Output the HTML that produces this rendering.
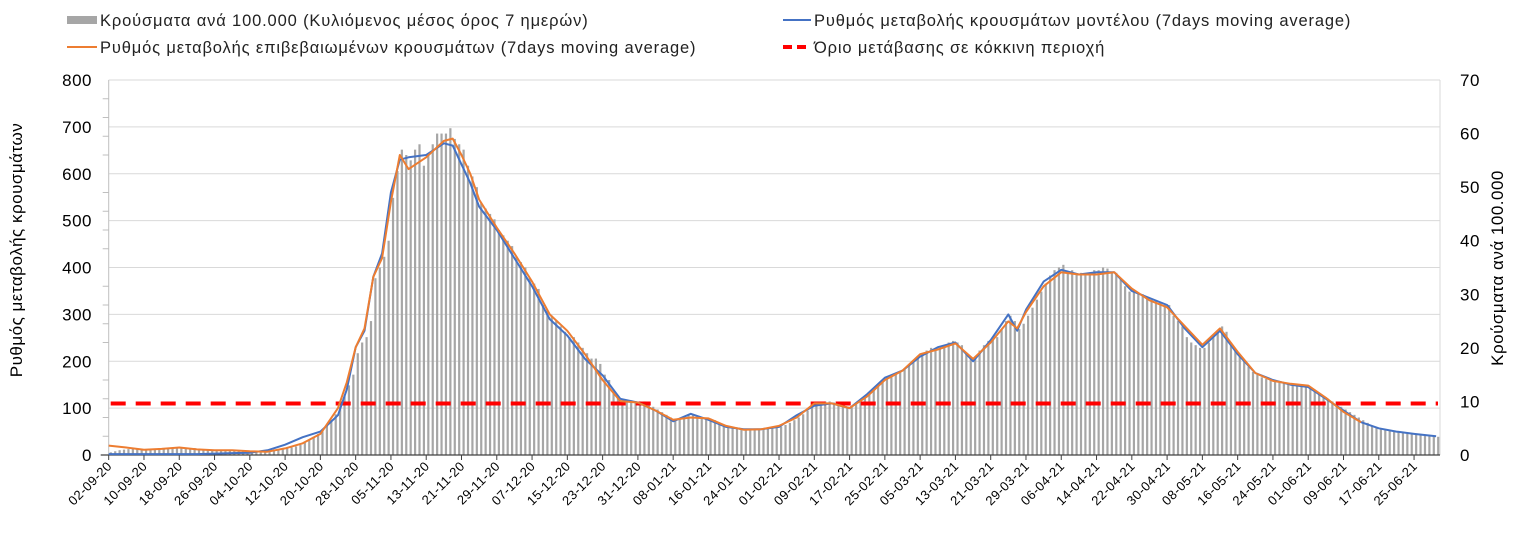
<!DOCTYPE html>
<html><head><meta charset="utf-8">
<style>
html,body{margin:0;padding:0;background:#fff;}
svg{display:block;font-family:"Liberation Sans","DejaVu Sans",sans-serif;}
</style></head>
<body>
<svg id="chart" width="1524" height="544" viewBox="0 0 1524 544" xmlns="http://www.w3.org/2000/svg">
  <g font-size="16.5" letter-spacing="0.85" fill="#222">
    <g>
      <rect x="67" y="16" width="30" height="8" fill="#a6a6a6"/>
      <text x="100" y="26">Κρούσματα ανά 100.000 (Κυλιόμενος μέσος όρος 7 ημερών)</text>
    </g>
    <g>
      <line x1="783" y1="20" x2="811" y2="20" stroke="#4472c4" stroke-width="2"/>
      <text x="814" y="26">Ρυθμός μεταβολής κρουσμάτων μοντέλου (7days moving average)</text>
    </g>
    <g>
      <line x1="67" y1="47" x2="97" y2="47" stroke="#ed7d31" stroke-width="2"/>
      <text x="100" y="53">Ρυθμός μεταβολής επιβεβαιωμένων κρουσμάτων (7days moving average)</text>
    </g>
    <g>
      <line x1="783" y1="47" x2="811" y2="47" stroke="#ff0000" stroke-width="4" stroke-dasharray="9,5"/>
      <text x="814" y="53">Όριο μετάβασης σε κόκκινη περιοχή</text>
    </g>
  </g>
  <text transform="translate(22,250) rotate(-90)" text-anchor="middle" font-size="17" letter-spacing="0.5" fill="#000">Ρυθμός μεταβολής κρουσμάτων</text>
  <text transform="translate(1503,268) rotate(-90)" text-anchor="middle" font-size="17" letter-spacing="0.5" fill="#000">Κρούσματα ανά 100.000</text>
  <g id="grid"></g>
  <g id="bars"></g>
  <g id="axes"></g>
  <g id="lines"></g>
</svg>
<script>
const startDate = [2020, 8, 2];
const leftTicks = [0,100,200,300,400,500,600,700,800];
const rightTicks = [0,10,20,30,40,50,60,70];
const threshold = 110;
const lineDays = [0,4,8,12,16,20,24,28,32,36,40,44,48,52,54,56,58,60,62,64,66,68,72,76,78,80,82,84,88,92,96,100,104,108,112,116,120,124,128,132,136,140,144,148,152,156,160,164,168,172,176,180,184,188,192,196,200,204,206,208,212,216,220,224,228,232,236,240,244,248,252,256,260,264,268,272,276,280,284,288,292,296,301];
const modelRate = [2,2,2,2,2,2,3,4,5,10,22,38,50,85,140,230,265,380,430,560,630,635,640,665,660,620,580,530,480,420,360,290,255,205,170,120,112,95,72,88,75,60,55,55,60,85,105,110,100,130,165,180,210,230,240,200,245,300,265,310,370,395,385,390,390,350,335,320,270,230,265,215,175,160,150,145,120,95,70,57,50,45,40];
const confirmedRate = [20,16,11,13,16,12,10,10,8,7,14,25,45,100,155,230,270,380,420,540,640,610,635,670,675,640,600,545,485,430,370,300,265,215,160,115,112,95,75,80,78,62,54,55,62,80,110,110,100,125,160,180,215,225,238,205,240,285,270,305,360,390,385,385,390,355,330,315,275,235,270,220,175,158,152,148,122,92,70];
const cases = [0.5,0.7,0.9,1.0,1.1,1.2,1.1,1.0,1.0,1.0,1.1,1.1,1.1,1.2,1.2,1.3,1.3,1.4,1.3,1.3,1.2,1.1,1.0,1.0,0.9,0.9,0.9,0.8,0.8,0.8,0.7,0.7,0.7,0.7,0.6,0.7,0.7,0.8,0.9,1.1,1.3,1.4,1.6,1.9,2.3,2.8,3.4,3.9,4.4,5.5,6.6,7.6,9.0,11,13,15,19,21,22,25,33,35,37,40,48,53,57,56,55,57,58,54,56,58,60,60,60,61,59,58,57,54,52,50,47,46,45,44,42,41,40,39,37,36,35,33,32,31,28,27,26,25,24,23,22,22,21,20,19,18,18,17,15,14,12,11,10.5,10.3,10.2,10,10,10,9.5,9,8.5,8,7.5,7,6.5,6.8,7.2,7.5,7.5,7.2,7,6.8,6.8,6.5,6,5.7,5.4,5.2,5,4.9,4.8,4.8,4.9,4.8,4.9,5,5,5.1,5.3,5.6,6,6.5,7,7.6,8.3,9,9.5,9.8,10,10,9.8,9.5,9,8.8,9,9.5,10.2,10.8,11.5,12.3,13,13.8,14.3,14.8,15.3,15.6,16,16.8,17.5,18.5,19,19.5,20,19.8,20,20.5,21,21.3,21,20.5,19,18,18,19.5,20.5,21.3,21.5,22,23.5,25,26,25,23.5,24.5,26,27.5,29,30.5,32,33.5,34.5,35,35.5,34,34.5,33.8,34,33.5,33.8,34.5,34.5,35,34.8,34.2,34,33,31.5,30.5,30.5,30.3,30,29.5,29,28.8,28.5,28,28,26,25,24,22,21,20.5,20,20,21,22,23,24,23,21,19.5,18.5,17.5,16.5,15.5,15,14.5,14.2,14,13.8,13.5,13.4,13.3,13.2,13.2,13.1,13,12.5,12,11.5,11,10.5,10,9.5,9,8.5,8,7.5,7,6.5,6,5.5,5.2,5,4.8,4.6,4.4,4.3,4.1,4,3.9,3.8,3.7,3.6,3.5,3.4,3.4];

const NS = "http://www.w3.org/2000/svg";
const X0 = 108.7, DX = 4.41, Y0 = 455, YTOP = 80;
const xs = d => X0 + d * DX;
const yL = v => Y0 - (v / 800) * (Y0 - YTOP);
const yR = v => Y0 - (v / 70) * (Y0 - YTOP);
function mk(tag, attrs, parent) {
  const e = document.createElementNS(NS, tag);
  for (const k in attrs) e.setAttribute(k, attrs[k]);
  parent.appendChild(e);
  return e;
}
const grid = document.getElementById('grid');
const axes = document.getElementById('axes');
const barsG = document.getElementById('bars');
const linesG = document.getElementById('lines');
const XEND = 1440;

leftTicks.forEach(v => {
  if (v > 0) {
    const g = mk('line', {x1: X0, x2: XEND, y1: yL(v), y2: yL(v), stroke: '#d9d9d9', 'stroke-width': 1}, grid);
    
    
  }
  const t = mk('text', {x: 92, y: yL(v) + 6, 'text-anchor': 'end', 'font-size': 17, 'letter-spacing': 0.5, fill: '#000'}, axes);
  t.textContent = v;
  
  
});
for (let v = 40; v < 800; v += 40) {
  if (v % 100 === 0) continue;
  const m = mk('line', {x1: X0 - 6, x2: X0, y1: yL(v), y2: yL(v), stroke: '#bfbfbf', 'stroke-width': 1}, axes);
  
  
}
rightTicks.forEach(v => {
  const t = mk('text', {x: 1460, y: yR(v) + 6, 'text-anchor': 'start', 'font-size': 17, 'letter-spacing': 0.5, fill: '#000'}, axes);
  t.textContent = v;
  
  
});

cases.forEach((v, i) => {
  const b = mk('rect', {x: xs(i) + 1.0, y: yR(v), width: 2.2, height: Y0 - yR(v), fill: '#a6a6a6'}, barsG);
  
  
});

let la = mk('line', {x1: X0, x2: X0, y1: YTOP, y2: Y0, stroke: '#bfbfbf', 'stroke-width': 1}, axes);


let ra = mk('line', {x1: XEND, x2: XEND, y1: YTOP, y2: Y0, stroke: '#d9d9d9', 'stroke-width': 1}, axes);


let xa = mk('line', {x1: X0 - 8, x2: XEND, y1: Y0, y2: Y0, stroke: '#404040', 'stroke-width': 1.2}, axes);



const base = new Date(Date.UTC(startDate[0], startDate[1], startDate[2]));
for (let d = 0; d < cases.length; d += 8) {
  const dt = new Date(base.getTime() + d * 86400000);
  const lab = String(dt.getUTCDate()).padStart(2, '0') + '-' + String(dt.getUTCMonth() + 1).padStart(2, '0') + '-' + String(dt.getUTCFullYear()).slice(2);
  const x = xs(d);
  const tk = mk('line', {x1: x, x2: x, y1: Y0, y2: Y0 + 5, stroke: '#404040', 'stroke-width': 1}, axes);
  
  
  const t = mk('text', {x: x + 4, y: Y0 + 12, 'text-anchor': 'end', 'font-size': 13, 'letter-spacing': 0.4, fill: '#000', transform: 'rotate(-45 ' + (x + 4) + ' ' + (Y0 + 12) + ')'}, axes);
  t.textContent = lab;
  
  
}

const th = mk('line', {x1: X0 + 2, x2: XEND - 2, y1: yL(threshold), y2: yL(threshold), stroke: '#ff0000', 'stroke-width': 4, 'stroke-dasharray': '15,10'}, linesG);



function pathOf(arr) {
  return arr.map((v, i) => (i ? 'L' : 'M') + xs(lineDays[i]).toFixed(1) + ',' + yL(v).toFixed(1)).join(' ');
}
const pb = mk('path', {d: pathOf(modelRate), fill: 'none', stroke: '#4472c4', 'stroke-width': 2, 'stroke-linejoin': 'round'}, linesG);


const po = mk('path', {d: pathOf(confirmedRate), fill: 'none', stroke: '#ed7d31', 'stroke-width': 2, 'stroke-linejoin': 'round'}, linesG);


</script>
</body></html>
